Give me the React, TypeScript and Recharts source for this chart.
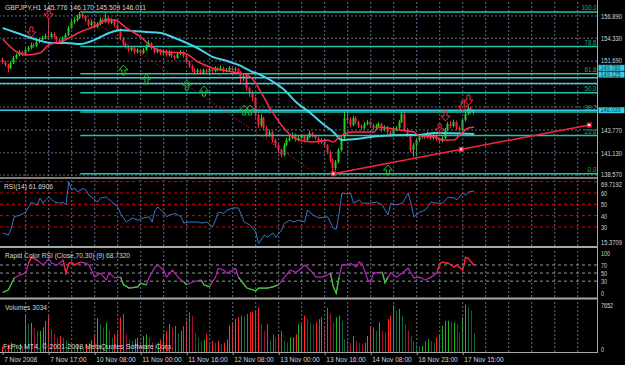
import React from 'react';
import { ComposedChart, Bar, Line, Scatter, XAxis, YAxis, ReferenceLine, ReferenceDot } from 'recharts';

// GBPJPY H1, one bar per hour from 7 Nov 2008 01:00
const firstOpen = 151.9;
const closes = [
  151.59, 151.25, 150.9, 151.48, 152.05, 152.4, 152.74, 152.51, 152.97, 153.2,
  153.55, 153.43, 153.89, 154.13, 154.36, 154.59, 154.47, 154.82, 154.47, 154.13,
  153.89, 154.36, 154.7, 155.51, 156.2, 156.43, 156.66, 157.12, 156.89, 156.43,
  155.85, 156.2, 155.62, 155.97, 156.43, 156.2, 156.66, 156.08, 156.43, 155.85,
  155.28, 154.36, 153.66, 153.32, 152.97, 153.2, 152.74, 152.97, 152.63, 152.97,
  153.43, 153.78, 153.2, 152.74, 152.97, 152.63, 152.86, 152.4, 152.74, 152.28,
  152.05, 152.51, 152.74, 152.28, 151.59, 151.13, 150.67, 150.44, 150.67, 150.32,
  150.67, 150.44, 150.78, 150.55, 150.9, 150.67, 150.9, 150.55, 150.67, 150.9,
  150.67, 150.78, 150.44, 149.75, 149.98, 148.6, 148.14, 147.44, 145.48, 144.33,
  145.14, 143.99, 143.18, 143.53, 142.6, 142.03, 141.45, 140.88, 142.03, 142.6,
  142.84, 143.18, 142.6, 142.84, 143.07, 142.6, 142.95, 143.41, 143.07, 142.84,
  142.37, 142.6, 142.03, 141.22, 140.3, 139.38, 140.07, 141.45, 142.84, 145.14,
  144.91, 144.33, 145.14, 144.68, 144.22, 143.99, 144.45, 144.68, 144.33, 143.99,
  144.22, 144.45, 143.76, 144.1, 143.53, 143.18, 143.76, 143.99, 144.68, 145.6,
  143.76, 143.18, 141.45, 142.03, 142.6, 142.95, 143.07, 142.95, 143.3, 142.84,
  143.07, 142.72, 142.49, 142.84, 143.76, 144.45, 144.22, 144.68, 143.99, 143.76,
  144.91, 145.6, 146.29, 145.83, 146.01,
];
const highs = [
  152.1, 151.75, 151.4, 151.7, 152.3, 152.6, 152.95, 152.9, 153.15, 153.45,
  153.8, 153.75, 154.1, 154.4, 154.6, 154.85, 156.43, 155.05, 155.0, 154.6,
  154.25, 154.55, 154.95, 155.75, 156.5, 156.75, 157.0, 157.35, 157.25, 157.0,
  156.55, 156.45, 156.35, 156.2, 156.7, 156.65, 157.2, 156.85, 156.65, 156.55,
  156.0, 155.45, 154.5, 153.85, 153.5, 153.4, 153.35, 153.15, 153.1, 153.2,
  153.65, 154.1, 153.9, 153.35, 153.15, 153.1, 153.05, 153.0, 152.95, 152.9,
  152.45, 152.75, 153.0, 152.9, 152.4, 151.75, 151.3, 150.85, 150.85, 150.8,
  150.85, 150.8, 151.0, 150.95, 151.1, 151.05, 151.2, 151.05, 150.9, 151.15,
  151.05, 151.0, 150.9, 150.55, 150.2, 150.1, 148.8, 148.3, 147.6, 145.7,
  145.6, 145.3, 144.2, 143.8, 143.7, 142.8, 142.2, 141.6, 142.25, 142.85,
  143.1, 143.45, 143.35, 143.05, 143.3, 143.2, 143.2, 143.7, 143.55, 143.2,
  143.0, 142.8, 142.75, 142.15, 141.4, 140.5, 140.3, 141.7, 143.1, 145.9,
  146.06, 145.2, 145.4, 145.3, 144.85, 144.4, 144.7, 144.9, 144.85, 144.5,
  144.45, 144.65, 144.6, 144.3, 144.25, 143.7, 143.95, 144.2, 144.9, 145.85,
  146.1, 144.0, 143.35, 142.25, 142.85, 143.2, 143.35, 143.4, 143.6, 143.45,
  143.3, 143.25, 142.9, 143.05, 144.0, 144.7, 144.8, 144.95, 144.85, 144.2,
  145.15, 145.85, 146.6, 146.45, 146.17,
];
const lows = [
  151.4, 151.05, 150.4, 150.75, 151.35, 151.9, 152.25, 152.3, 152.4, 152.8,
  153.05, 153.2, 153.3, 153.75, 154.0, 154.2, 154.3, 154.35, 154.3, 153.9,
  153.65, 153.8, 154.25, 154.6, 155.4, 156.0, 156.25, 156.55, 156.6, 156.2,
  155.65, 155.7, 155.45, 155.5, 155.85, 156.0, 156.1, 155.9, 155.95, 155.6,
  155.05, 154.1, 153.45, 153.1, 152.75, 152.8, 152.5, 152.55, 152.4, 152.5,
  152.85, 153.3, 153.0, 152.55, 152.6, 152.4, 152.45, 152.2, 152.25, 152.05,
  151.85, 151.95, 152.4, 152.05, 151.4, 150.9, 150.45, 150.2, 150.25, 150.1,
  150.2, 150.25, 150.3, 150.35, 150.4, 150.5, 150.55, 150.35, 150.4, 150.5,
  150.45, 150.5, 150.2, 149.1, 149.4, 148.3, 147.6, 147.1, 145.2, 144.0,
  144.1, 143.7, 142.9, 143.0, 142.3, 141.7, 141.1, 140.6, 140.7, 141.9,
  142.45, 142.7, 142.4, 142.45, 142.7, 142.35, 142.45, 142.85, 142.9, 142.6,
  142.15, 142.2, 141.8, 140.95, 140.0, 138.72, 139.1, 139.9, 141.3, 142.7,
  144.6, 144.05, 144.2, 144.45, 144.0, 143.75, 143.85, 144.3, 144.1, 143.75,
  143.85, 144.05, 143.5, 143.6, 143.3, 142.9, 143.05, 143.6, 143.85, 144.55,
  143.6, 142.95, 141.2, 140.65, 140.7, 142.4, 142.75, 142.7, 142.8, 142.6,
  142.65, 142.5, 142.3, 142.35, 142.7, 143.6, 143.95, 144.05, 143.75, 143.55,
  143.6, 144.75, 145.45, 145.6, 145.51,
];
const volumes = [
  900, 700, 1200, 1500, 1100, 800, 1300, 1000, 5900, 4560,
  4700, 3900, 3400, 3400, 3960, 5000, 5860, 3700, 2870, 2330,
  2600, 2330, 1800, 1500, 1200, 900, 1300, 1000, 800, 1100,
  1400, 1900, 2870, 5500, 4500, 3960, 4770, 3400, 2330, 2870,
  3100, 5590, 6130, 2870, 2000, 1790, 2100, 2330, 1790, 2600,
  2870, 2330, 1500, 1250, 1500, 2000, 3000, 3415, 4500, 3960,
  4230, 3000, 3415, 4200, 5040, 6400, 5850, 3000, 2330, 1790,
  2000, 2870, 1250, 1790, 1500, 1790, 1250, 1500, 2000, 4230,
  4770, 5320, 5590, 5860, 5730, 6130, 6400, 6500, 6600, 7200,
  4500, 3415, 4500, 1790, 2870, 2330, 2870, 3415, 1790, 1500,
  2330, 2330, 2870, 4500, 4500, 5860, 5300, 4770, 4500, 4770,
  5300, 5590, 4200, 7160, 6130, 4770, 5590, 5860, 5040, 2060,
  1790, 1500, 2600, 1790, 1500, 1250, 1500, 2600, 3960, 3960,
  3415, 4770, 3415, 3150, 5320, 5860, 7500, 6670, 6950, 5860,
  4500, 3415, 2600, 1790, 1250, 1000, 1000, 1790, 2060, 1790,
  1500, 2330, 2870, 4230, 5040, 5040, 4770, 4770, 4500, 3150,
  5590, 7652, 7200, 6670, 3034,
];

// moving averages, read as [bar, price]
const redMA: [number, number][] = [
  [0, 154.24], [4, 152.97], [8, 152.4], [13, 152.63], [16, 153.55], [20, 153.89], [27, 155.05],
  [33, 155.85], [36, 156.43], [39, 156.43], [43, 155.51], [48, 154.47], [52, 153.32], [57, 152.74],
  [63, 152.63], [68, 151.59], [73, 150.9], [80, 150.44], [85, 150.09], [88, 149.17], [90, 148.02],
  [94, 145.72], [99, 143.53], [103, 142.6], [108, 142.37], [113, 142.6], [115, 142.37], [117, 142.95],
  [122, 143.53], [129, 143.53], [131, 144.1], [138, 143.76], [143, 143.53], [145, 143.07],
  [150, 142.95], [153, 142.6], [157, 142.6], [159, 143.18], [162, 143.99], [164, 144.1],
];
const cyanMA: [number, number][] = [
  [0, 155.51], [5, 154.93], [11, 154.24], [17, 153.78], [22, 153.78], [27, 153.66], [30, 153.89],
  [34, 154.47], [37, 154.93], [41, 155.28], [45, 155.16], [50, 155.05], [55, 154.93], [59, 154.47],
  [64, 153.78], [69, 152.97], [73, 152.17], [78, 151.71], [82, 151.25], [87, 150.44], [89, 150.21],
  [93, 149.52], [98, 148.37], [102, 146.98], [107, 145.72], [111, 144.56], [115, 143.53],
  [118, 142.6], [123, 142.72], [131, 143.07], [141, 143.18], [145, 143.18], [150, 143.41], [164, 143.3],
];

const rsi14: [number, number][] = [
  [0, 24.7], [2, 23], [3, 29], [4, 39], [6, 40.5], [8, 43], [9, 47.6], [10, 52], [12, 49], [13, 55.6],
  [14, 51], [15, 54], [16, 56.5], [18, 52], [20, 51], [21, 52], [22, 49.4], [23, 69.7], [24, 62.6],
  [25, 64.4], [26, 61], [28, 64], [29, 62.6], [30, 58], [31, 56.5], [33, 52], [34, 55.6], [36, 56.5],
  [38, 52], [40, 47.6], [41, 42], [42, 38], [43, 34.4], [45, 38], [47, 36], [49, 38], [51, 39],
  [52, 34.4], [53, 45], [54, 47.6], [56, 43], [57, 39], [58, 40.6], [60, 42], [62, 39], [63, 33.5],
  [65, 34.4], [68, 34.4], [69, 33.5], [71, 34.4], [73, 30], [74, 36], [75, 43], [77, 42], [78, 45],
  [80, 46.8], [82, 46.8], [83, 40.6], [84, 34.4], [86, 31.8], [88, 25.6], [89, 15.4], [91, 23],
  [92, 21], [94, 24.7], [95, 21], [97, 27.3], [98, 33.5], [100, 36], [101, 34.4], [103, 36],
  [105, 34.4], [106, 45], [108, 40.6], [110, 38], [113, 39], [115, 29], [116, 28], [117, 42],
  [118, 60], [120, 59], [121, 60], [122, 51], [124, 54], [125, 51], [128, 51], [130, 52],
  [132, 49.4], [134, 40.6], [135, 51], [137, 49.4], [139, 51], [141, 60], [142, 51], [143, 39],
  [145, 43], [147, 45], [149, 52], [151, 51], [153, 51], [155, 56.5], [157, 55.6], [158, 54],
  [160, 60], [161, 58], [162, 61], [164, 61.7],
];

const rapidRsi: [number, number][] = [
  [0, 2], [2, 8.5], [4, 38], [6, 45], [8, 50], [9, 74], [10, 89], [12, 82], [14, 70], [15, 77],
  [16, 86], [17, 74], [19, 70], [21, 82], [22, 50], [23, 74], [24, 77], [25, 70], [27, 77], [29, 74],
  [30, 70], [32, 40], [34, 50], [36, 33], [37, 50], [39, 38], [41, 40], [42, 21], [44, 13], [47, 16],
  [48, 25], [50, 21], [51, 40], [53, 65], [54, 70], [56, 57], [57, 40], [59, 57], [61, 40], [63, 28],
  [64, 21], [66, 28], [69, 33], [70, 21], [72, 16], [74, 40], [75, 62], [77, 57], [78, 50], [80, 57],
  [81, 62], [82, 40], [84, 21], [85, 13], [88, 6], [89, 13], [92, 13], [94, 16], [96, 21], [98, 40],
  [100, 57], [102, 52], [103, 57], [105, 70], [107, 57], [109, 40], [111, 40], [113, 45], [114, 50],
  [115, 16], [116, 0], [117, 40], [118, 70], [120, 70], [121, 74], [123, 65], [124, 77], [125, 74],
  [127, 33], [128, 28], [129, 50], [132, 52], [133, 26], [134, 40], [135, 50], [137, 40], [139, 50],
  [141, 62], [142, 50], [143, 38], [145, 40], [147, 33], [149, 40], [151, 50], [152, 74], [153, 77],
  [155, 74], [157, 65], [158, 70], [160, 57], [161, 89], [162, 86], [163, 77], [164, 68.7],
];
const rapidRedRanges: [number, number][] = [[9, 12], [20, 28], [151, 164]];
const rapidGreenRanges: [number, number][] = [[0, 4], [41, 50], [62, 65], [68, 73], [82, 96], [114, 117], [132, 134]];

// fractal arrows [bar, price]
const arrowsDown: [number, number][] = [[10, 155.05], [16, 157.12], [152, 143.87], [154, 145.37], [160, 146.52], [162, 147.21]];
const arrowsUp: [number, number][] = [[42, 150.67], [50, 149.63], [64, 148.94], [70, 148.25], [84, 146.06], [86, 146.06], [134, 139.15]];

const timeTickBars = [0, 16, 32, 48, 64, 80, 96, 112, 128, 144, 160];
const timeTickLabels = [
  '7 Nov 2008', '7 Nov 17:00', '10 Nov 08:00', '11 Nov 00:00', '11 Nov 16:00', '12 Nov 08:00',
  '13 Nov 00:00', '13 Nov 16:00', '14 Nov 08:00', '16 Nov 23:00', '17 Nov 15:00',
];
const priceGrid = [138.57, 141.13, 143.77, 146.41, 149.05, 151.69, 154.33, 156.89];
const hiddenPriceTicks = [146.41, 149.05];
const rsiTicks = [15.3709, 30, 40, 50, 60, 69.7192];
const rsiLevels = [30, 40, 50, 60, 70];
const rapidTicks = [0, 30, 50, 70, 100];
const rapidLevels = [30, 50, 70];
const volumeTicks = [0, 7652];

const fibLow = 138.72;
const fibHigh = 157.35;
const fibFromBar = 27;
const fibLevels = [0, 23.6, 38.2, 50, 61.8, 78.6, 100];
const fibBaseline = { from: [27, 157.35], to: [109, 138.72] };
const hLinePrices = [149.78, 149.125, 146.039];
const trendFrom: [number, number] = [115, 138.72];
const trendTo: [number, number] = [204, 144.33];

// ---- layout / style ----
const X_DOMAIN: [number, number] = [-0.94, 206.71];
const PRICE_DOMAIN: [number, number] = [138.46, 158.5];
const RSI_DOMAIN: [number, number] = [13.24, 71.47];
const RAPID_DOMAIN: [number, number] = [-9.1, 109.4];
const VOL_DOMAIN: [number, number] = [0, 8380];
const axisBoxNudge = [-9.9, -8.8, 0];

const BULL = '#1fd01f';
const BEAR = '#f8203c';
const GRID = '#5d6d8a';
const FIB = '#22c6a6';
const HLINE = '#3ccbe0';
const TXT = '#d6d6d6';
const FONT = '"Liberation Sans", Arial, sans-serif';

const candles = closes.map((close, i) => ({
  i,
  open: i === 0 ? firstOpen : closes[i - 1],
  close,
  high: highs[i],
  low: lows[i],
  range: [lows[i], highs[i]],
  vol: volumes[i],
  volUp: i === 0 || volumes[i] >= volumes[i - 1],
}));
const pts = (arr: [number, number][]) => arr.map(([i, v]) => ({ i, v }));
const inRange = (arr: [number, number][], [a, b]: [number, number]) => pts(arr.filter(([i]) => i >= a && i <= b));
const fibPrice = (lvl: number) => fibLow + ((fibHigh - fibLow) * lvl) / 100;
const gridBars = Array.from({ length: 25 }, (_, k) => (k + 1) * 8);

const Candle = (p: any) => {
  const { x, y, width, height, payload } = p;
  const top = Math.min(y, y + height);
  const h = Math.abs(height);
  const { open, close, high, low } = payload;
  const span = high - low || 1;
  const py = (v: number) => top + ((high - v) / span) * h;
  const color = close >= open ? BULL : BEAR;
  const px = Math.floor(x + width / 2);
  const b0 = py(Math.max(open, close));
  const b1 = py(Math.min(open, close));
  return (
    <g>
      <line x1={px + 0.5} x2={px + 0.5} y1={top} y2={top + h} stroke={color} strokeWidth={1} />
      <rect x={px - 0.5} y={b0} width={2} height={Math.max(1, b1 - b0)} fill={color} />
    </g>
  );
};

const VolBar = (p: any) => {
  const { x, y, width, height, payload } = p;
  const up = payload.close >= payload.open;
  const fill = up ? (payload.volUp ? '#1cb41c' : '#0d6638') : payload.volUp ? '#ff2626' : '#9e1036';
  return <rect x={Math.floor(x + width / 2)} y={Math.min(y, y + height)} width={1} height={Math.abs(height)} fill={fill} />;
};

const DownArrow = (p: any) => {
  const { cx, cy } = p;
  return <path d={`M${cx - 1.5},${cy - 5} h3 v5 h3 l-4.5,5 l-4.5,-5 h3 z`} fill="none" stroke="#ff2a3c" strokeWidth={1} />;
};
const UpArrow = (p: any) => {
  const { cx, cy } = p;
  return <path d={`M${cx - 1.5},${cy + 5} h3 v-5 h3 l-4.5,-5 l-4.5,5 h3 z`} fill="none" stroke="#22b83c" strokeWidth={1} />;
};
const Marker = (p: any) => (
  <g>
    <rect x={p.cx - 2.5} y={p.cy - 2.5} width={5} height={5} fill="#ff2040" />
    <rect x={p.cx - 1} y={p.cy - 1} width={2} height={2} fill="#ffffff" />
  </g>
);

const T = (p: { x: number; y: number; len?: number; fill?: string; size?: number; anchor?: string; children: string }) => (
  <text
    x={p.x}
    y={p.y}
    fill={p.fill || TXT}
    fontSize={p.size || 8}
    fontFamily={FONT}
    textAnchor={(p.anchor as any) || 'start'}
    textLength={p.len}
    lengthAdjust={p.len ? 'spacingAndGlyphs' : undefined}
  >
    {p.children}
  </text>
);

const RightTick = (digits: number | null, skip: number[] = [], nudge: Record<string, number> = {}) => (p: any) => {
  const v = p.payload.value as number;
  if (skip.includes(v)) return <g />;
  const s = digits !== null ? v.toFixed(digits) : String(v);
  return (
    <T x={601} y={p.y + 3 + (nudge[String(v)] || 0)} size={7} len={s.length * 3.0}>
      {s}
    </T>
  );
};

const TimeTick = (p: any) => {
  const k = timeTickBars.indexOf(p.payload.value);
  const label = timeTickLabels[k] || '';
  return (
    <g>
      <line x1={p.x + 0.5} x2={p.x + 0.5} y1={p.y} y2={p.y + 3} stroke="#a0a0a0" />
      <T x={p.x + 1.5} y={p.y + 10} len={label.length * 3.3}>{label}</T>
    </g>
  );
};

export default function App() {
  const vgrid = gridBars.map((b) => (
    <ReferenceLine key={'vg' + b} x={b} stroke={GRID} strokeDasharray="2 2" ifOverflow="visible" />
  ));

  return (
    <div style={{ position: 'absolute', left: 0, top: 0, width: 625, height: 365, background: '#000', overflow: 'hidden' }}>
      {/* price window */}
      <div style={{ position: 'absolute', left: 0, top: 0 }}>
        <ComposedChart width={625} height={178} data={candles} margin={{ top: 2, right: 0, bottom: 2, left: 0 }}>
          <XAxis type="number" dataKey="i" domain={X_DOMAIN} hide allowDataOverflow />
          <YAxis
            orientation="right"
            domain={PRICE_DOMAIN}
            ticks={priceGrid}
            interval={0}
            width={28}
            axisLine={false}
            tickLine={false}
            allowDataOverflow
            tick={RightTick(3, hiddenPriceTicks, { '138.57': -1, '151.69': -1.2 })}
          />
          {vgrid}
          {priceGrid.map((p) => (
            <ReferenceLine key={'hg' + p} y={p} stroke={GRID} strokeDasharray="2 2" ifOverflow="visible" />
          ))}
          {fibLevels.map((l) => (
            <ReferenceLine
              key={'fib' + l}
              segment={[{ x: fibFromBar, y: fibPrice(l) }, { x: X_DOMAIN[1], y: fibPrice(l) }]}
              stroke={FIB}
              strokeWidth={1.5}
              ifOverflow="visible"
            />
          ))}
          {hLinePrices.map((p) => (
            <ReferenceLine key={'hl' + p} y={p} stroke={HLINE} strokeWidth={1.5} ifOverflow="visible" />
          ))}
          <ReferenceLine
            segment={[{ x: fibBaseline.from[0], y: fibBaseline.from[1] }, { x: fibBaseline.to[0], y: fibBaseline.to[1] }]}
            stroke="#ff2040"
            strokeDasharray="1 2"
            ifOverflow="visible"
          />
          <Bar dataKey="range" barSize={2} shape={(p: any) => <Candle {...p} />} isAnimationActive={false} />
          <Line data={pts(cyanMA)} dataKey="v" type="monotone" stroke="#44d4e6" strokeWidth={2} dot={false} activeDot={false} isAnimationActive={false} />
          <Line data={pts(redMA)} dataKey="v" type="monotone" stroke="#ff2a50" strokeWidth={1.5} dot={false} activeDot={false} isAnimationActive={false} />
          <Scatter data={pts(arrowsDown)} dataKey="v" shape={(p: any) => <DownArrow {...p} />} isAnimationActive={false} />
          <Scatter data={pts(arrowsUp)} dataKey="v" shape={(p: any) => <UpArrow {...p} />} isAnimationActive={false} />
          <ReferenceLine
            segment={[{ x: trendFrom[0], y: trendFrom[1] }, { x: trendTo[0], y: trendTo[1] }]}
            stroke="#ff2040"
            strokeWidth={1.5}
            ifOverflow="visible"
          />
          {[trendFrom, [(trendFrom[0] + trendTo[0]) / 2, (trendFrom[1] + trendTo[1]) / 2], trendTo].map((m, k) => (
            <ReferenceDot key={'mk' + k} x={m[0]} y={m[1]} r={3} ifOverflow="visible" shape={(p: any) => <Marker {...p} />} />
          ))}
          {fibLevels.map((l) => (
            <ReferenceDot
              key={'fl' + l}
              x={206.2}
              y={fibPrice(l)}
              r={1}
              ifOverflow="visible"
              shape={(p: any) => (
                <T x={p.cx + 1} y={p.cy - 2} anchor="end" fill="#1fae7e" size={7.5} len={l.toFixed(1).length * 3}>
                  {l.toFixed(1)}
                </T>
              )}
            />
          ))}
          {hLinePrices.map((price, k) => (
            <ReferenceDot
              key={'bx' + price}
              x={206.2}
              y={price}
              r={1}
              ifOverflow="visible"
              shape={(p: any) => (
                <g>
                  <rect x={598.5} y={p.cy + axisBoxNudge[k] - 3} width={26} height={6} fill={HLINE} />
                  <T x={600.5} y={p.cy + axisBoxNudge[k] + 2.3} fill="#0b3a46" size={6.5} len={20}>
                    {price.toFixed(3)}
                  </T>
                </g>
              )}
            />
          ))}
        </ComposedChart>
      </div>

      {/* RSI(14) window */}
      <div style={{ position: 'absolute', left: 0, top: 178 }}>
        <ComposedChart width={625} height={70} data={candles} margin={{ top: 2, right: 0, bottom: 2, left: 0 }}>
          <XAxis type="number" dataKey="i" domain={X_DOMAIN} hide allowDataOverflow />
          <YAxis
            orientation="right"
            domain={RSI_DOMAIN}
            ticks={rsiTicks}
            interval={0}
            width={28}
            axisLine={false}
            tickLine={false}
            allowDataOverflow
            tick={RightTick(null, [], { '69.7192': 2.5, '15.3709': -2 })}
          />
          {vgrid}
          {rsiLevels.map((l) => (
            <ReferenceLine key={'rl' + l} y={l} stroke="#e00010" strokeDasharray="3 3" ifOverflow="visible" />
          ))}
          <Line data={pts(rsi14)} dataKey="v" type="linear" stroke="#3478c0" strokeWidth={1} dot={false} activeDot={false} isAnimationActive={false} />
        </ComposedChart>
      </div>

      {/* Rapid Color RSI window */}
      <div style={{ position: 'absolute', left: 0, top: 248 }}>
        <ComposedChart width={625} height={50} data={candles} margin={{ top: 1, right: 0, bottom: 1, left: 0 }}>
          <XAxis type="number" dataKey="i" domain={X_DOMAIN} hide allowDataOverflow />
          <YAxis orientation="right" domain={RAPID_DOMAIN} ticks={rapidTicks} interval={0} width={28} axisLine={false} tickLine={false} allowDataOverflow tick={RightTick(null)} />
          {vgrid}
          {rapidLevels.map((l) => (
            <ReferenceLine key={'pl' + l} y={l} stroke="#9a9a9a" strokeDasharray="3 3" ifOverflow="visible" />
          ))}
          <Line data={pts(rapidRsi)} dataKey="v" type="linear" stroke="#c020c0" strokeWidth={1.2} dot={false} activeDot={false} isAnimationActive={false} />
          {rapidRedRanges.map((r, k) => (
            <Line key={'rr' + k} data={inRange(rapidRsi, r)} dataKey="v" type="linear" stroke="#ff2020" strokeWidth={1.2} dot={false} activeDot={false} isAnimationActive={false} />
          ))}
          {rapidGreenRanges.map((r, k) => (
            <Line key={'rg' + k} data={inRange(rapidRsi, r)} dataKey="v" type="linear" stroke="#22dd22" strokeWidth={1.2} dot={false} activeDot={false} isAnimationActive={false} />
          ))}
        </ComposedChart>
      </div>

      {/* Volumes window */}
      <div style={{ position: 'absolute', left: 0, top: 298 }}>
        <ComposedChart width={625} height={67} data={candles} margin={{ top: 2, right: 0, bottom: 0, left: 0 }}>
          <XAxis
            type="number"
            dataKey="i"
            domain={X_DOMAIN}
            allowDataOverflow
            ticks={timeTickBars}
            interval={0}
            height={13}
            axisLine={false}
            tickLine={false}
            tickSize={0}
            tickMargin={0}
            tick={(p: any) => <TimeTick {...p} />}
          />
          <YAxis
            orientation="right"
            domain={VOL_DOMAIN}
            ticks={volumeTicks}
            interval={0}
            width={28}
            axisLine={false}
            tickLine={false}
            allowDataOverflow
            tick={RightTick(null, [], { '0': -3 })}
          />
          {vgrid}
          <Bar dataKey="vol" barSize={1} shape={(p: any) => <VolBar {...p} />} isAnimationActive={false} />
        </ComposedChart>
      </div>

      {/* window borders and captions */}
      <svg width={625} height={365} style={{ position: 'absolute', left: 0, top: 0, pointerEvents: 'none' }}>
        <g stroke="#a8a8a8">
          <line x1={0} x2={598} y1={178} y2={178} strokeWidth={1.5} />
          <line x1={0} x2={598} y1={247} y2={247} strokeWidth={2} />
          <line x1={0} x2={598} y1={298.5} y2={298.5} strokeWidth={2} />
          <line x1={0} x2={598} y1={352.5} y2={352.5} strokeWidth={1} />
          <line x1={597.5} x2={597.5} y1={0} y2={353} strokeWidth={1} />
        </g>
        <T x={5} y={10} len={141}>GBPJPY,H1 145.776 146.170 145.509 146.011</T>
        <T x={4} y={189} len={49}>RSI(14) 61.6906</T>
        <T x={5} y={258} len={125}>Rapid Color RSI (Close,70,30) (9) 68.7320</T>
        <T x={5} y={310} len={42}>Volumes 3034</T>
        <T x={3} y={349} len={170}>FxPro MT4, © 2001-2008 MetaQuotes Software Corp.</T>
      </svg>
    </div>
  );
}
